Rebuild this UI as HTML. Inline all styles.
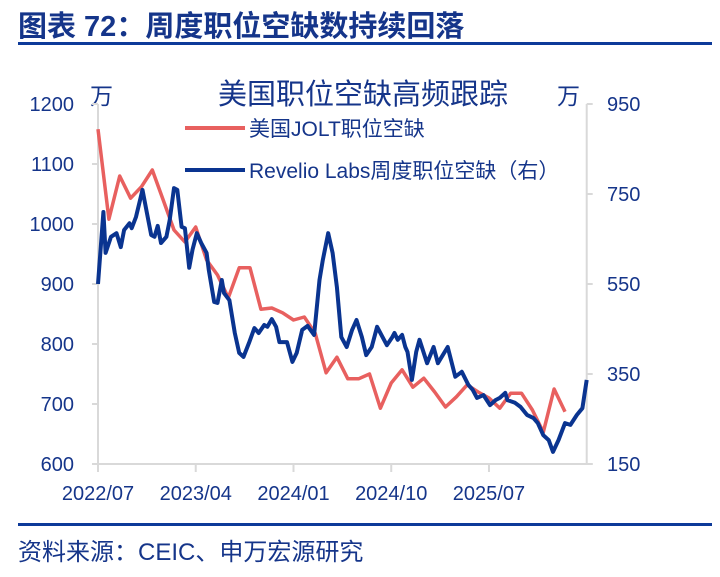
<!DOCTYPE html>
<html><head><meta charset="utf-8"><style>
body{margin:0;background:#fff;width:720px;height:572px;overflow:hidden;font-family:"Liberation Sans","Noto Sans CJK SC",sans-serif}
svg text{font-family:"Liberation Sans","Noto Sans CJK SC",sans-serif}
</style></head><body>
<svg id="c" width="720" height="572">
<text x="18" y="36" font-size="29" font-weight="bold" fill="#15358a">图表 72：周度职位空缺数持续回落</text>
<rect x="18" y="42" width="694" height="3" fill="#0d3a99"/>
<text x="363" y="104" font-size="29" fill="#15358a" text-anchor="middle">美国职位空缺高频跟踪</text>
<text x="90" y="104" font-size="23" fill="#15358a">万</text>
<text x="557" y="104" font-size="23" fill="#15358a">万</text>
<g id="axes"></g>
<g id="series"></g>
<line x1="185" y1="128" x2="245" y2="128" stroke="#e8605f" stroke-width="4"/>
<text x="249" y="136" font-size="21" fill="#15358a">美国JOLT职位空缺</text>
<line x1="185" y1="170" x2="245" y2="170" stroke="#0a3490" stroke-width="4"/>
<text x="249" y="178" font-size="21" fill="#15358a">Revelio Labs周度职位空缺（右）</text>
<rect x="18" y="523" width="694" height="3" fill="#0d3a99"/>
<text x="18" y="560" font-size="24" fill="#15358a">资料来源：CEIC、申万宏源研究</text>
</svg>
<script>
const leftTicks=[600,700,800,900,1000,1100,1200];
const rightTicks=[150,350,550,750,950];
const xTickLabels=["2022/07","2023/04","2024/01","2024/10","2025/07"];
const xTickMonths=[0,9,18,27,36];
const joltValues=[1158,1008,1080,1043,1062,1090,1040,990,970,995,940,915,877,927,927,858,860,852,840,845,818,752,778,742,742,750,693,735,757,728,743,720,695,712,732,720,710,693,718,718,690,653,725,687];
const revelioMonths=[0,0.5,0.7,1.2,1.7,2.1,2.4,2.9,3.1,3.5,4.1,4.5,4.9,5.2,5.5,5.8,6.3,6.6,7.0,7.3,7.7,8.0,8.4,8.7,9.1,9.5,10.0,10.2,10.7,11.0,11.4,11.6,12.1,12.6,13.0,13.4,13.9,14.4,14.8,15.3,15.6,16.0,16.4,16.7,17.4,17.9,18.3,18.8,19.3,19.9,20.4,20.7,21.2,21.6,22.0,22.4,22.9,23.4,23.8,24.3,24.7,25.2,25.7,26.1,26.6,27.1,27.3,27.6,28.0,28.3,28.5,28.9,29.3,29.6,30.3,30.9,31.3,32.2,32.9,33.5,34.1,34.5,34.9,35.5,36.1,36.6,37.0,37.5,37.7,38.4,38.9,39.5,40.1,40.5,41.0,41.5,41.9,42.4,43.0,43.5,44.1,44.6,45.0];
const revelioValues=[550,710,619,655,663,632,670,685,674,699,759,708,659,655,679,641,655,692,763,759,677,674,586,626,663,641,619,581,510,508,559,530,514,441,397,388,419,452,441,459,455,472,455,421,421,377,397,448,457,437,559,603,663,619,543,432,410,448,470,432,392,410,455,437,414,432,441,426,437,410,399,337,399,426,374,410,374,410,344,355,326,315,297,303,281,292,297,308,292,286,277,259,252,241,214,203,177,203,241,237,259,274,337];
const X0=98,PX=10.86,T=104,B=464;
const xs=m=>X0+m*PX;
const yl=v=>B-(v-600)/600*(B-T);
const yr=v=>B-(v-150)/800*(B-T);
const NS="http://www.w3.org/2000/svg";
function mk(tag,attrs,parent){const e=document.createElementNS(NS,tag);for(const k in attrs)e.setAttribute(k,attrs[k]);parent.appendChild(e);return e;}
const ax=document.getElementById('axes'),sr=document.getElementById('series');
const g='#d9d9d9';
let e=mk('line',{x1:X0,y1:T,x2:X0,y2:B,stroke:g,'stroke-width':2},ax);


e=mk('line',{x1:xs(45),y1:T,x2:xs(45),y2:B,stroke:g,'stroke-width':2},ax);


e=mk('line',{x1:92,y1:B,x2:xs(45)+6,y2:B,stroke:g,'stroke-width':2},ax);


leftTicks.forEach(v=>{
 const l=mk('line',{x1:92,y1:yl(v),x2:X0,y2:yl(v),stroke:g,'stroke-width':2},ax);
 
 
 const t=mk('text',{x:74,y:yl(v)+7,'font-size':20,fill:'#15358a','text-anchor':'end'},ax);t.textContent=v;
 
 
});
rightTicks.forEach(v=>{
 const l=mk('line',{x1:xs(45),y1:yr(v),x2:xs(45)+6,y2:yr(v),stroke:g,'stroke-width':2},ax);
 
 
 const t=mk('text',{x:607,y:yr(v)+7,'font-size':20,fill:'#15358a'},ax);t.textContent=v;
 
 
});
xTickLabels.forEach((s,i)=>{
 const x=xs(xTickMonths[i]);
 const l=mk('line',{x1:x,y1:B,x2:x,y2:B+8,stroke:g,'stroke-width':2},ax);
 
 
 const t=mk('text',{x:x,y:500,'font-size':20,fill:'#15358a','text-anchor':'middle'},ax);t.textContent=s;
 
 
});
const rp=joltValues.map((v,i)=>xs(i).toFixed(1)+','+yl(v).toFixed(1)).join(' ');
e=mk('polyline',{points:rp,fill:'none',stroke:'#e8605f','stroke-width':3.5,'stroke-linejoin':'round'},sr);


const bp=revelioValues.map((v,i)=>xs(revelioMonths[i]).toFixed(1)+','+yr(v).toFixed(1)).join(' ');
e=mk('polyline',{points:bp,fill:'none',stroke:'#0a3490','stroke-width':4,'stroke-linejoin':'round'},sr);


</script>
</body></html>
